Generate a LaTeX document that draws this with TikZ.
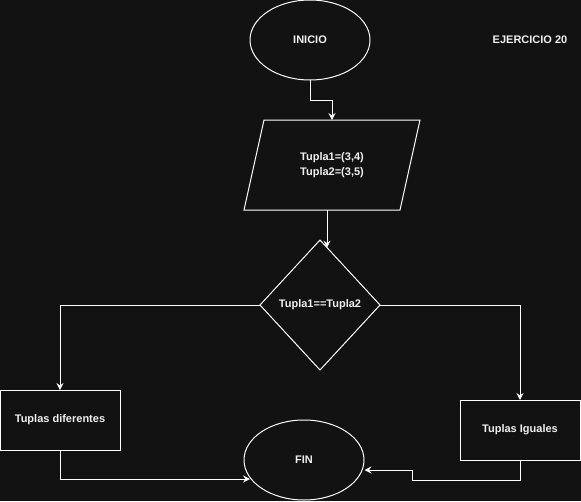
\documentclass[tikz,border=0pt]{standalone}
\usepackage{fontspec}
\setmainfont{Liberation Sans}
\usetikzlibrary{shapes.geometric,arrows.meta,calc}
\definecolor{bg}{HTML}{121212}
\definecolor{fg}{HTML}{F0F0F0}
\begin{document}
\begin{tikzpicture}[x=1pt,y=-1pt,
  txt/.style={text=fg,font=\fontsize{11}{15.5}\selectfont\bfseries},
  shp/.style={draw=white,line width=1pt,fill=bg,txt,inner sep=0pt,outer sep=0pt},
  ell/.style={shp,ellipse,minimum width=120pt,minimum height=80pt},
  rbox/.style={shp,rectangle,minimum width=120pt,minimum height=60pt},
  conn/.style={draw=white,line width=1pt,-{Stealth[length=7pt,width=7pt,inset=2.5pt]}}]
\fill[bg] (0,0) rectangle (581,501);
\useasboundingbox (0,0) rectangle (581,501);
\node[ell] (ini) at (310,40) {INICIO};
\node[txt] (tit) at (530,40) {EJERCICIO 20};
\path[shp] (264,120) -- (420,120) -- (400,210) -- (244,210) -- cycle;
\node[txt,align=center] (par) at (332,165) {Tupla1=(3,4)\\Tupla2=(3,5)};
\coordinate (parb) at (327,210);
\coordinate (part) at (332,120);
\node[shp,diamond,minimum width=120pt,minimum height=130pt] (dec) at (320,305) {};
\node[txt] (dect) at (320,305) {Tupla1==Tupla2};
\node[rbox] (dif) at (60,420) {Tuplas diferentes};
\node[rbox] (igu) at (520,430) {Tuplas Iguales};
\node[ell] (fin) at (304,460) {FIN};
\coordinate (d1) at (327,247.6);
\draw[conn] (ini.south) |- (332,100) -- (part);
\draw[conn] (parb) -- (d1);
\draw[conn] (dec.west) -| (dif.north);
\draw[conn] (dec.east) -| (igu.north);
\draw[conn] (dif.south) |- ($(fin.center)+(-54,19)$);
\draw[conn] (igu.south) |- (412,480) -- (412,470) -- ($(fin.center)+(60.5,10)$);
\end{tikzpicture}
\end{document}
